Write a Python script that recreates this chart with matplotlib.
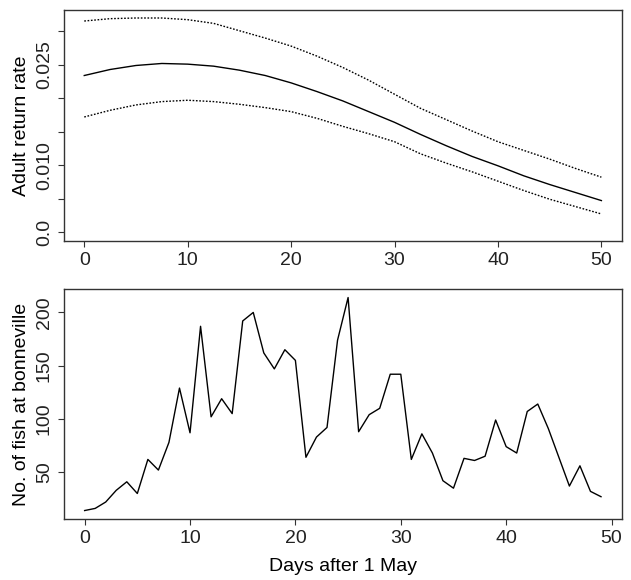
"""Adult return rate vs. release day, and fish counts at Bonneville."""

import matplotlib

matplotlib.use("Agg")
import matplotlib.pyplot as plt

# top panel: fitted return rate with upper/lower bounds (read every 2.5 days)
days_fit = [0, 2.5, 5, 7.5, 10, 12.5, 15, 17.5, 20, 22.5, 25,
            27.5, 30, 32.5, 35, 37.5, 40, 42.5, 45, 47.5, 50]
rate_mean = [0.0234, 0.0243, 0.0249, 0.0252, 0.0251, 0.0248, 0.0242, 0.0234,
             0.0223, 0.0210, 0.0196, 0.0180, 0.0164, 0.0146, 0.0129, 0.0113,
             0.0099, 0.0084, 0.0071, 0.0059, 0.0047]
rate_upper = [0.03155, 0.0319, 0.0320, 0.0320, 0.03175, 0.0312, 0.0301, 0.0290,
              0.0278, 0.0263, 0.0246, 0.0227, 0.0206, 0.0185, 0.0168, 0.0151,
              0.0135, 0.0122, 0.0109, 0.0095, 0.0082]
rate_lower = [0.0172, 0.0182, 0.0190, 0.0195, 0.0197, 0.0195, 0.0191, 0.0186,
              0.0180, 0.0170, 0.0158, 0.0147, 0.0135, 0.0117, 0.0103, 0.0090,
              0.0076, 0.0062, 0.0049, 0.0038, 0.0027]

# bottom panel: daily counts
days = list(range(50))
fish = [14, 16, 22, 33, 41, 30, 62, 52, 78, 129,
        87, 187, 102, 119, 105, 192, 200, 162, 147, 165,
        155, 64, 83, 92, 174, 214, 88, 104, 110, 142,
        142, 62, 86, 68, 42, 35, 63, 61, 65, 99,
        74, 68, 107, 114, 91, 64, 37, 56, 32, 27]

rate_ticks = [0.0, 0.005, 0.010, 0.015, 0.020, 0.025, 0.030]
rate_labels = ["0.0", "", "0.010", "", "", "0.025", ""]
fish_ticks = [50, 100, 150, 200]
day_ticks = [0, 10, 20, 30, 40, 50]

plt.rcParams["font.family"] = ["Liberation Sans", "DejaVu Sans"]
plt.rcParams["font.size"] = 14

fig = plt.figure(figsize=(6.31, 5.8), dpi=100)
ax1 = fig.add_axes([0.1014, 0.585, 0.8838, 0.3978])
ax2 = fig.add_axes([0.1014, 0.1047, 0.8838, 0.3970])

ax1.plot(days_fit, rate_mean, color="black", lw=1.0)
ax1.plot(days_fit, rate_upper, color="black", lw=1.0, ls=(0, (1.2, 1.2)))
ax1.plot(days_fit, rate_lower, color="black", lw=1.0, ls=(0, (1.2, 1.2)))
ax1.set_xlim(-1.96, 51.96)
ax1.set_ylim(-0.0013, 0.0332)
ax1.set_yticks(rate_ticks)
ax1.set_yticklabels(rate_labels, rotation=90, va="center")
ax1.set_ylabel("Adult return rate")

ax2.plot(days, fish, color="black", lw=1.0)
ax2.set_xlim(-1.96, 50.96)
ax2.set_ylim(5.8, 222)
ax2.set_yticks(fish_ticks)
ax2.set_yticklabels([str(t) for t in fish_ticks], rotation=90, va="center")
ax2.set_ylabel("No. of fish at bonneville")
ax2.set_xlabel("Days after 1 May")
ax2.xaxis.set_label_coords(0.5, -0.203)
ax2.xaxis.label.set_va("center")

for ax in (ax1, ax2):
    ax.set_xticks(day_ticks)
    ax.tick_params(direction="out", length=4, width=0.8, pad=4,
                   color="#333333", labelcolor="#222222")
    for sp in ax.spines.values():
        sp.set_color("#333333")
        sp.set_linewidth(1.0)
    ax.yaxis.set_label_coords(-0.0753, 0.5)
    ax.yaxis.label.set_va("center")

fig.savefig("out.png", dpi=100)
